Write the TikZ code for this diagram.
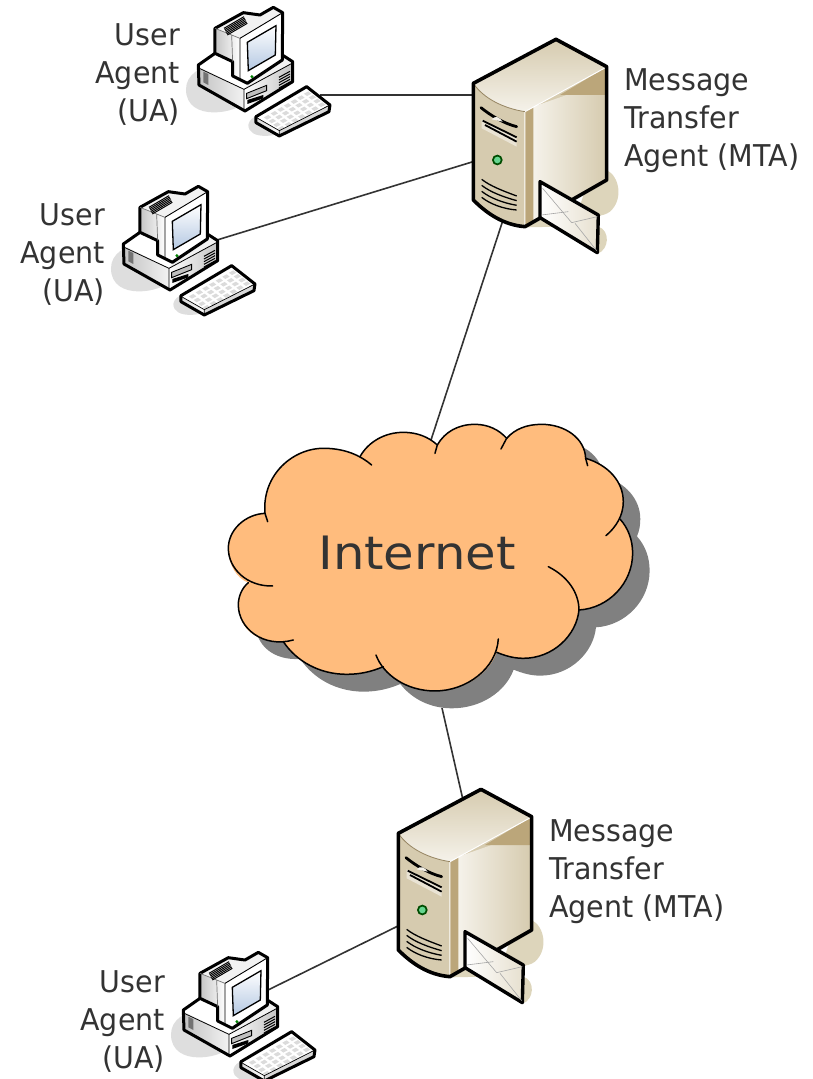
\documentclass[tikz,border=0pt]{standalone}
\usepackage{fontspec}
\setmainfont[FakeStretch=0.95]{DejaVu Sans}
\newfontfamily\bigfont[FakeStretch=1.08]{DejaVu Sans}
\definecolor{ink}{HTML}{333333}
\definecolor{cloudfill}{HTML}{FFBC7D}
\definecolor{cloudshade}{HTML}{808080}
\definecolor{floorgrey}{HTML}{DEDEDE}
\definecolor{floortan}{HTML}{DDD5BB}
\definecolor{tandark}{HTML}{BBA67A}
\definecolor{tanmid}{HTML}{D6CBAF}
\definecolor{tanlight}{HTML}{F5F2EA}
\definecolor{greyside}{HTML}{C4C4C4}
\definecolor{greylight}{HTML}{F2F2F2}
\definecolor{screenblue}{HTML}{B4C8E2}
\tikzset{
  link/.style={draw=ink,line width=1.6pt},
  label/.style={text=ink,font=\fontsize{30}{38}\selectfont,inner sep=0pt},
  heavy/.style={draw=black,line width=3pt,line join=round,line cap=round},
  lobe/.style={draw=black,line width=1.5pt,line cap=round},
  computer/.pic={
    % floor shadows
    \fill[floorgrey] (258,268) .. controls (258,225) and (300,195) .. (360,195) .. controls (420,195) and (450,240) .. (440,300) .. controls (420,340) and (258,370) .. (258,268) -- cycle;
    \fill[floorgrey] (445,375) .. controls (450,345) and (490,340) .. (530,350) -- (560,390) .. controls (530,412) and (445,420) .. (445,375) -- cycle;
    % base
    \fill[greylight] (295,195) -- (345,160) -- (500,130) -- (578,185) -- (578,245) -- (435,333) -- (297,255) -- cycle;
    \fill[white] (298,200) -- (345,165) -- (400,190) -- (445,250) -- (432,268) -- cycle;
    \shade[left color=white,right color=greyside] (432,268) -- (576,190) -- (576,245) -- (432,330) -- cycle;
    \shade[left color=greyside,right color=greylight] (298,205) -- (432,268) -- (432,330) -- (298,253) -- cycle;
    \draw[heavy] (345,160) -- (295,195) -- (297,255) -- (435,333) -- (578,245) -- (578,185) -- (547,165);
    \draw[black,line width=.8pt] (432,268) -- (432,330) (298,205) -- (432,268) -- (576,190);
    % base details
    \fill[black!55] (310,215) -- (325,222) -- (325,255) -- (310,247) -- cycle;
    \foreach \d in {0,1,2,3,4}{\draw[black,line width=1pt] (537,{232+\d*8}) -- (570,{214+\d*8});}
    \draw[black,line width=.9pt,fill=black!25] (440,280) -- (500,256) -- (500,272) -- (440,296) -- cycle;
    \fill[black] (442,300) -- (490,285) -- (490,295) -- (442,312) -- cycle;
    % monitor
    \shade[left color=greyside,right color=white] (345,85) -- (420,115) -- (420,238) -- (398,226) -- (398,185) -- (345,160) -- cycle;
    \fill[greylight] (345,85) -- (430,38) -- (480,45) -- (520,22) -- (548,38) -- (420,118) -- cycle;
    \fill[white] (420,115) -- (548,38) -- (548,180) -- (442,250) -- (420,238) -- cycle;
    \draw[heavy] (345,85) -- (430,38) -- (480,45) -- (520,22) -- (548,38) -- (547,180) -- (442,250) -- (398,228) -- (398,185) -- (345,160) -- cycle;
    \draw[black,line width=.9pt] (420,115) -- (548,38) (420,115) -- (420,238) -- (442,250);
    \draw[black!55,line width=.7pt] (345,85) -- (420,115) (395,105) -- (398,185);
    \shade[shading angle=225,top color=white,bottom color=screenblue,draw=black,line width=1.3pt] (442,127) -- (528,77) -- (526,165) -- (445,212) -- cycle;
    \foreach \d in {0,1,2,3,4,5}{\draw[black,line width=1pt] ({372+\d*2},{85+\d*4}) -- ({432+\d*2},{50+\d*4});}
    \fill[green!50!black] (456,230) circle (5);
    % keyboard
    \fill[white] (468,350) -- (620,260) -- (690,315) -- (687,335) -- (538,408) -- (468,368) -- cycle;
    \shade[left color=black!15,right color=white] (468,352) -- (538,392) -- (538,408) -- (468,368) -- cycle;
    \fill[black!15] (538,392) -- (688,316) -- (687,335) -- (538,408) -- cycle;
    \foreach \i in {0,...,6}{\foreach \j in {0,...,3}{
      \fill[black!14] ({492+\i*20+\j*14},{352-\i*11.8+\j*11}) -- ++(13,-7) -- ++(9,7) -- ++(-13,7) -- cycle;
    }}
    \draw[heavy] (468,350) -- (620,260) -- (690,315) -- (687,335) -- (538,408) -- (468,368) -- cycle;
    \draw[black,line width=.7pt] (468,352) -- (538,392) -- (688,316) (538,392) -- (538,408);
  },
  server/.pic={
    % floor shadows
    \fill[floortan] (400,400) -- (440,420) .. controls (480,440) and (490,510) .. (450,545) .. controls (430,560) and (400,560) .. (350,560) -- cycle;
    \fill[floortan] (380,580) -- (415,590) .. controls (450,600) and (450,660) .. (410,672) -- cycle;
    \fill[floortan] (190,580) -- (240,570) -- (300,590) -- (200,592) -- cycle;
    % top face
    \shade[shading angle=40,top color=tanmid,bottom color=tanlight] (40,160) -- (288,28) -- (438,110) -- (195,245) .. controls (130,235) and (70,205) .. (40,160) -- cycle;
    % front face
    \shade[left color=tanmid,middle color=tanlight!80!tanmid,right color=tanmid] (40,160) .. controls (70,205) and (130,235) .. (195,245) -- (195,590) .. controls (130,580) and (80,545) .. (40,510) -- cycle;
    % side face
    \fill[tanmid] (195,245) -- (438,110) -- (438,450) -- (195,590) -- cycle;
    \shade[left color=tanlight,right color=tanmid] (220,230) -- (320,195) -- (438,195) -- (438,450) -- (220,575) -- cycle;
    \fill[tandark] (195,245) -- (220,232) -- (220,573) -- (195,590) -- cycle;
    \fill[tandark] (300,195) -- (438,112) -- (438,195) -- cycle;
    \draw[white,line width=1pt] (195,245) -- (195,590) (195,245) -- (438,112);
    \draw[tandark!80!black,line width=.8pt] (40,160) .. controls (70,205) and (130,235) .. (195,245);
    % front details
    \draw[black,line width=2.8pt,line cap=round] (63,233) .. controls (90,255) and (130,280) .. (170,290);
    \fill[tanlight] (95,268) .. controls (105,255) and (120,262) .. (128,275) -- cycle;
    \fill[tanlight!80!tandark] (65,268) -- (170,325) -- (170,350) -- (65,295) -- cycle;
    \draw[black,line width=1.8pt] (68,272) -- (170,322) (75,285) -- (170,335);
    \fill[green!30!black] (112,390) circle (16);
    \fill[green!45!teal!60!white] (112,390) circle (10);
    \foreach \d in {0,1,2,3}{\draw[black,line width=1.3pt] (65,{448+\d*18}) .. controls (90,{468+\d*18}) and (130,{483+\d*18}) .. (170,{498+\d*14});}
    % outline
    \draw[heavy,line width=3.6pt] (40,160) -- (288,28) -- (440,110) -- (440,450) -- (195,590) .. controls (130,585) and (80,550) .. (40,510) -- cycle;
    % envelope
    \shade[left color=white,right color=tanmid!60!white,heavy,line width=3.4pt] (240,455) -- (415,555) -- (412,668) -- (240,563) -- cycle;
    \draw[black!35,line width=.6pt] (248,475) -- (335,578) -- (412,560) (245,555) -- (325,545) (345,580) -- (410,662);
  }
}
\begin{document}
\begin{tikzpicture}[x=1pt,y=-1pt]
\useasboundingbox (0,0) rectangle (812,1079);
% connector ends
\coordinate (uaOnePort) at (320,95);
\coordinate (mtaOneA) at (472,95);
\coordinate (uaTwoPort) at (217,240);
\coordinate (mtaOneB) at (472,162);
\coordinate (mtaOneC) at (503,220);
\coordinate (cloudTop) at (431,440);
\coordinate (cloudBottom) at (442,708);
\coordinate (mtaTwoTop) at (463,800);
\coordinate (mtaTwoLeft) at (398,926);
\coordinate (uaThreePort) at (268,990);
\draw[link] (uaOnePort) -- (mtaOneA);
\draw[link] (uaTwoPort) -- (mtaOneB);
\draw[link] (mtaOneC) -- (cloudTop);
\draw[link] (cloudBottom) -- (mtaTwoTop);
\draw[link] (uaThreePort) -- (mtaTwoLeft);
% icons
\path (100,0) pic[x=.3333pt,y=-.3333pt] {computer};
\path (25,179) pic[x=.3333pt,y=-.3333pt] {computer};
\path (85,945) pic[x=.3333pt,y=-.3333pt] {computer};
\path (460,30) pic[x=.3333pt,y=-.3333pt] {server};
\path (385,780) pic[x=.3333pt,y=-.3333pt] {server};
% cloud
\begin{scope}[shift={(220,415)},x=.3333pt,y=-.3333pt]
\def\cloudpath{(135,295) .. controls (125,180) and (220,95) .. (320,100) .. controls (360,102) and (395,110) .. (420,125)
 .. controls (445,80) and (495,52) .. (550,52) .. controls (590,52) and (625,65) .. (652,90)
 .. controls (675,50) and (715,28) .. (765,28) .. controls (805,28) and (838,45) .. (860,70)
 .. controls (885,42) and (920,28) .. (965,28) .. controls (1035,28) and (1095,70) .. (1097,130)
 .. controls (1165,150) and (1210,200) .. (1210,260) .. controls (1210,280) and (1207,295) .. (1200,312)
 .. controls (1225,340) and (1238,375) .. (1238,415) .. controls (1238,505) and (1165,580) .. (1077,585)
 .. controls (1070,660) and (1000,730) .. (910,730) .. controls (880,730) and (855,722) .. (830,712)
 .. controls (805,780) and (730,828) .. (645,828) .. controls (580,828) and (525,800) .. (490,755)
 .. controls (455,770) and (420,778) .. (380,778) .. controls (300,778) and (230,740) .. (190,680)
 .. controls (110,685) and (55,640) .. (55,570) .. controls (55,545) and (65,520) .. (85,503)
 .. controls (50,490) and (25,450) .. (25,400) .. controls (25,345) and (75,298) .. (135,295) -- cycle}
\fill[cloudshade,shift={(51,52)}] \cloudpath;
\fill[cloudfill] \cloudpath;
\draw[lobe] (135,295) .. controls (125,180) and (220,95) .. (320,100) .. controls (375,102) and (420,120) .. (455,150);
\draw[lobe] (420,125) .. controls (445,80) and (495,52) .. (550,52) .. controls (590,52) and (625,65) .. (652,90) -- (645,115);
\draw[lobe] (652,90) .. controls (675,50) and (715,28) .. (765,28) .. controls (805,28) and (838,45) .. (860,70) -- (843,102);
\draw[lobe] (860,70) .. controls (885,42) and (920,28) .. (965,28) .. controls (1035,28) and (1095,70) .. (1097,130) -- (1103,152);
\draw[lobe] (1097,130) .. controls (1165,150) and (1210,200) .. (1210,260) .. controls (1210,300) and (1190,335) .. (1158,362);
\draw[lobe] (1200,312) .. controls (1225,340) and (1238,375) .. (1238,415) .. controls (1238,505) and (1165,580) .. (1077,585);
\draw[lobe] (985,455) .. controls (1045,485) and (1077,535) .. (1077,585) .. controls (1070,660) and (1000,730) .. (910,730) .. controls (880,730) and (855,722) .. (830,712);
\draw[lobe] (835,672) .. controls (830,760) and (740,828) .. (645,828) .. controls (560,828) and (490,780) .. (468,720);
\draw[lobe] (490,755) .. controls (455,770) and (420,778) .. (380,778) .. controls (300,778) and (230,740) .. (190,680);
\draw[lobe] (220,675) .. controls (130,700) and (55,640) .. (55,570) .. controls (55,545) and (65,520) .. (85,503);
\draw[lobe] (158,513) .. controls (80,515) and (25,460) .. (25,400) .. controls (25,345) and (75,298) .. (135,295) -- (143,320);
\end{scope}
\node[text=ink,font=\bigfont\fontsize{46}{50}\selectfont,inner sep=0pt] (internet) at (417,553) {Internet};
% labels
\node[label,align=right,anchor=north east] (uaOneText) at (180,23) {User\\Agent\\(UA)};
\node[label,align=right,anchor=north east] (uaTwoText) at (105,203) {User\\Agent\\(UA)};
\node[label,align=right,anchor=north east] (uaThreeText) at (165,970) {User\\Agent\\(UA)};
\node[label,align=left,anchor=north west] (mtaOneText) at (624,68) {Message\\Transfer\\Agent (MTA)};
\node[label,align=left,anchor=north west] (mtaTwoText) at (549,819) {Message\\Transfer\\Agent (MTA)};
\end{tikzpicture}
\end{document}
